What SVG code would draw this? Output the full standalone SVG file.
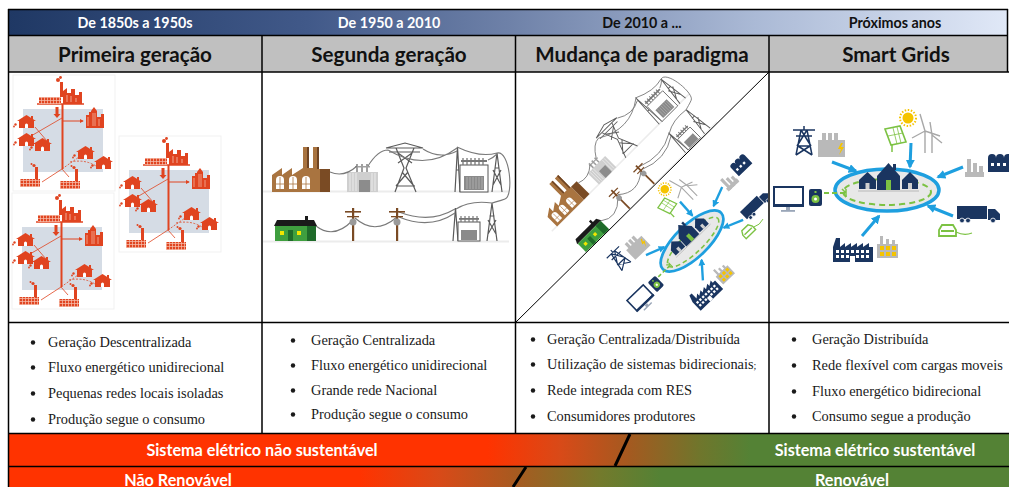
<svg xmlns="http://www.w3.org/2000/svg" width="1009" height="487" viewBox="0 0 1009 487">
<style>
.h1{font-family:Lato,"Liberation Sans",sans-serif;font-weight:700;font-size:14.3px;text-anchor:middle}
.h2{font-family:Lato,"Liberation Sans",sans-serif;font-weight:700;font-size:20.6px;text-anchor:middle;fill:#111}
.bl{font-family:"Liberation Serif",serif;font-size:14.4px;fill:#1a1a1a}
.bd{font-family:Lato,"Liberation Sans",sans-serif;font-weight:700;font-size:16.2px;text-anchor:middle;fill:#fff}
.ln{stroke:#000;stroke-width:1.5;fill:none}
.w{stroke:#7a7a7a;stroke-width:1.1;fill:none}
.tw{stroke:#5a5a5a;stroke-width:1.2;fill:none}
.rd{fill:#e04420}
.rl{stroke:#e04420;fill:none}
.nv{fill:#1a3560}
.ar{stroke:#1e9fdf;stroke-width:3;fill:none;marker-end:url(#ah)}
</style>
<defs>
<linearGradient id="hg" gradientUnits="userSpaceOnUse" x1="8" y1="0" x2="1007" y2="0">
<stop offset="0" stop-color="#1f3864"/><stop offset="0.3" stop-color="#415989"/><stop offset="0.5" stop-color="#6e81a8"/><stop offset="0.75" stop-color="#abbad6"/><stop offset="1" stop-color="#e0e8f7"/>
</linearGradient>
<linearGradient id="b1" gradientUnits="userSpaceOnUse" x1="8" y1="0" x2="1007" y2="0">
<stop offset="0.48" stop-color="#ff3300"/><stop offset="0.553" stop-color="#d84a18"/><stop offset="0.623" stop-color="#a35a20"/><stop offset="0.693" stop-color="#6f762c"/><stop offset="0.743" stop-color="#548235"/><stop offset="1" stop-color="#548235"/>
</linearGradient>
<linearGradient id="b2" gradientUnits="userSpaceOnUse" x1="8" y1="0" x2="1007" y2="0">
<stop offset="0.352" stop-color="#ff3300"/><stop offset="0.432" stop-color="#d84a18"/><stop offset="0.507" stop-color="#a85a20"/><stop offset="0.593" stop-color="#737a2c"/><stop offset="0.653" stop-color="#548235"/><stop offset="1" stop-color="#548235"/>
</linearGradient>
<pattern id="grid" width="3" height="3" patternUnits="userSpaceOnUse"><rect width="3" height="3" fill="#e04420"/><path d="M0,0.5H3M0.5,0V3" stroke="#f6c2b0" stroke-width="0.7"/></pattern>
<marker id="ah" viewBox="0 0 10 10" refX="8" refY="5" markerWidth="3" markerHeight="3" orient="auto"><path d="M0,0 L10,5 L0,10 Z" fill="#1e9fdf"/></marker>
<marker id="rh" viewBox="0 0 10 10" refX="8" refY="5" markerWidth="4" markerHeight="4" orient="auto"><path d="M0,0 L10,5 L0,10 Z" fill="#e04420"/></marker>
<clipPath id="cUp"><polygon points="516,73 768,73 516,321"/></clipPath>
<clipPath id="cDn"><polygon points="768,73 768,321 516,321"/></clipPath>
<clipPath id="c4"><rect x="770" y="73" width="239" height="249"/></clipPath>

<!-- small red house -->
<g id="hs">
<path class="rd" d="M0,6 L9.5,0 L19,6 H17 V13 H2 V6 Z"/>
<rect class="rd" x="14" y="1" width="2" height="3"/>
<path d="M8,13 V10 A1.5,1.5 0 0 1 11,10 V13 Z" fill="#fff"/>
<circle class="rd" cx="-1.5" cy="9.5" r="1.2"/><circle class="rd" cx="-3" cy="11.5" r="0.9"/>
</g>
<!-- small red factory -->
<g id="sf">
<rect x="0" y="14" width="20" height="8" fill="url(#grid)"/>
<rect class="rd" x="15" y="2" width="3" height="12"/>
<circle class="rd" cx="14" cy="0.5" r="1.6"/><circle class="rd" cx="11.5" cy="-1" r="1"/>
</g>
<!-- isolated local network -->
<g id="cl">
<rect x="-10" y="-34" width="102" height="116" fill="#fff" stroke="#f1f1f1"/>
<rect width="80" height="63" fill="#d5dce5"/>
<path class="rl" stroke-width="1.5" d="M14,-5 H61"/>
<rect x="16" y="-12" width="22" height="7" fill="url(#grid)"/>
<rect class="rd" x="37" y="-27" width="3" height="15"/>
<circle class="rd" cx="35" cy="-29" r="2"/><circle class="rd" cx="37.5" cy="-31.5" r="1.4"/>
<path class="rd" d="M40,-5 V-18 L44,-21 V-16 H48 V-20 H52 V-14 H56 V-17 H59 V-5 Z"/>
<path d="M44,-14 V-7 M48,-13 V-7 M53,-11 V-7" stroke="#f6c2b0" stroke-width="0.8"/>
<path class="rl" stroke-width="2" d="M39.5,-5 V60"/>
<path class="rd" d="M32.5,-2 H35.5 V5 H37.5 L34,9 L30.5,5 H32.5 Z"/>
<path class="rd" d="M63,19 V6 H66 V3 H68 V19 Z M68,19 V2 L71,-2 L74,2 V19 Z M74,19 V8 H78 V5 H81 V19 Z"/>
<path d="M70,4 V17 M72,4 V17 M76,10 V17 M65,8 V17" stroke="#f6c2b0" stroke-width="0.7"/>
<path class="rl" stroke-width="1" d="M40,12 H60" marker-end="url(#rh)"/>
<path class="rl" stroke-width="0.8" d="M39,9 L8,27 M12,18 L24,32 M4,30 L14,36"/>
<use href="#hs" x="-6" y="6"/><use href="#hs" x="-6" y="24"/><use href="#hs" x="10" y="29"/>
<path class="rl" stroke-width="0.8" d="M39,60 L19,73 M39,60 L46,68"/>
<path class="rl" stroke-width="0.8" stroke-dasharray="2 1.5" d="M39,60 L56,48 M47,53 Q62,50 73,57"/>
<use href="#hs" x="53" y="37"/><use href="#hs" x="71" y="47"/>
<use href="#sf" x="-3" y="56"/><use href="#sf" x="37" y="58"/>
</g>

<!-- centralized grid -->
<g id="cg">
<rect x="263" y="190.5" width="246" height="2" fill="#ececec"/>
<rect x="263" y="240.5" width="246" height="2" fill="#ececec"/>
<path d="M272,192 V175 L282,168 V175 L292,168 V175 L303,168 V147 H309 V168 H313 V147 H319 V169 H320 V192 Z" fill="#a97440"/>
<rect x="307" y="147" width="2" height="21" fill="#6e4322"/><rect x="317" y="147" width="2" height="22" fill="#6e4322"/>
<rect x="320" y="169" width="10" height="23" fill="#7a4b24"/>
<g fill="#fff"><path d="M276,189 V180 A4,4 0 0 1 284,180 V189 Z"/><path d="M289,189 V180 A4,4 0 0 1 297,180 V189 Z"/><path d="M302,189 V180 A4,4 0 0 1 310,180 V189 Z"/></g>
<path d="M280,177 V189 M293,177 V189 M306,177 V189 M276,184 H284 M289,184 H297 M302,184 H310" stroke="#a97440" stroke-width="0.8"/>
<rect x="347" y="172" width="31" height="20" fill="#cfcfcf"/>
<path d="M350,173 V191 M353,173 V191 M356,173 V191 M372,173 V191 M375,173 V191" stroke="#ececec" stroke-width="1"/>
<rect x="359" y="180" width="11" height="12" fill="#8c8c8c"/>
<rect x="355" y="166" width="15" height="1.5" fill="#a0a0a0"/>
<path d="M357,164 V172 M362,164 V172 M367,164 V172" stroke="#a0a0a0" stroke-width="2"/>
<path class="tw" d="M386,148 H423 M389,152 H420 M386,148 L405,143 L423,148 M396,148 L404,168 L395,192 M414,148 L406,168 L416,192 M398,153 L412,163 M412,153 L398,163 M402,172 L414,186 M408,172 L396,186 M396,186 H415"/>
<path class="tw" d="M455,192 L457.5,147 L460,192 M456,170 H459"/>
<rect x="460" y="165" width="28" height="27" fill="#fff" stroke="#555" stroke-width="1"/>
<rect x="461" y="160" width="26" height="2" fill="#777"/>
<path d="M463,158 V165 M467,158 V165 M471,158 V165 M475,158 V165 M479,158 V165 M483,158 V165" stroke="#777" stroke-width="1.3"/>
<rect x="464" y="176" width="20" height="14" fill="#8a8a8a"/>
<path d="M467,177 V189 M470,177 V189 M473,177 V189 M476,177 V189 M479,177 V189 M482,177 V189" stroke="#b5b5b5" stroke-width="0.8"/>
<path class="tw" d="M492,192 L497,153 L502,192 M493,185 L501,170 M501,185 L493,170 M494.5,168 H499.5"/>
<path class="tw" d="M453,241 L455.5,208 L458,241"/>
<rect x="458" y="222" width="22" height="19" fill="#fff" stroke="#555" stroke-width="1"/>
<rect x="459" y="218" width="20" height="1.8" fill="#777"/>
<path d="M461,216 V222 M465,216 V222 M469,216 V222 M473,216 V222 M477,216 V222" stroke="#777" stroke-width="1.2"/>
<rect x="461" y="230" width="16" height="10" fill="#8a8a8a"/>
<path class="tw" d="M487,241 L492,203 L497,241 M488,234 L496,220 M496,234 L488,220 M489.5,216 H494.5"/>
<path class="w" d="M330,172 Q344,178 357,166 M368,166 Q378,150 388,150 M388,150 Q425,172 457,148 M423,149 Q440,160 457,151 M457,147 Q480,158 497,153 M488,160 Q493,158 497,154 M497,153 C510,150 514,196 505,199 C500,201 495,202 492,203 M492,203 Q470,200 456,209 M455,209 Q430,224 399,212 M455,213 Q430,230 399,217 M397,217 Q375,236 355,218 M353,220 Q334,240 316,226"/>
<g fill="#7a4a24"><rect x="352" y="208" width="2.2" height="33"/><rect x="345" y="211" width="16" height="1.6"/><rect x="347" y="216" width="12" height="1.3"/><rect x="396" y="208" width="2.2" height="33"/><rect x="389" y="211" width="16" height="1.6"/><rect x="391" y="216" width="12" height="1.3"/></g>
<circle cx="353" cy="222" r="3.5" fill="#9a9a9a"/><circle cx="397" cy="222" r="3.5" fill="#9a9a9a"/>
<path d="M274,226 L277,220 H314 L317,226 Z" fill="#1a1a1a"/><rect x="305" y="216" width="3" height="5" fill="#1a1a1a"/>
<rect x="275" y="226" width="41" height="15" fill="#3f9f3f"/><rect x="307" y="226" width="9" height="15" fill="#1f6b2a"/>
<rect x="280" y="231" width="4" height="4" fill="#f2e600"/><rect x="297" y="231" width="4" height="4" fill="#f2e600"/>
<rect x="288" y="230" width="5" height="11" fill="#1f6b2a"/>
</g>

<!-- smart grid -->
<g id="sg">
<ellipse cx="887" cy="190" rx="52" ry="21" fill="#e8e8e8" stroke="#1e9fdf" stroke-width="3.5"/>
<ellipse cx="887" cy="192" rx="44" ry="13" fill="none" stroke="#7cc243" stroke-width="2" stroke-dasharray="6 4"/>
<path class="nv" d="M877,176 L888.5,163 L900,176 V190 H877 Z"/><rect class="nv" x="893" y="164" width="3" height="6"/>
<rect x="886" y="180" width="5" height="10" fill="#7cc243"/>
<path class="nv" d="M859,180 L867.5,172 L876,180 V189 H859 Z"/><rect x="865.5" y="183" width="4" height="6" fill="#d0d0d0"/>
<path class="nv" d="M902,180 L910,172 L918,180 V189 H902 Z"/><rect x="908" y="183" width="4" height="6" fill="#d0d0d0"/>
<path d="M858,191 H919" stroke="#b8b8b8" stroke-width="1"/>
<path class="ar" d="M832,162 L856,171"/>
<path class="ar" d="M911,143 L910,167"/>
<path class="ar" d="M963,167 L938,177"/>
<path class="ar" d="M953,216 L928,206"/>
<path class="ar" d="M862,236 L879,216"/>
<path d="M793,130 H815 M796,136 H812 M801,130 L796,155 M807,130 L812,155 M801,130 L811,146 M807,130 L797,146 M798,146 H810 M798,146 L812,155 M810,146 L796,155 M804,126 V130" stroke="#1a3560" stroke-width="1.5" fill="none"/>
<rect x="818" y="140" width="27" height="17" fill="#b9b9b9"/>
<rect x="822" y="133" width="4" height="8" fill="#b9b9b9"/><rect x="828" y="133" width="4" height="8" fill="#b9b9b9"/><rect x="834" y="133" width="4" height="8" fill="#b9b9b9"/>
<path d="M841,143 L838,149 H841 L839,155 L844,147 H841 L843,143 Z" fill="#f5c400"/>
<path d="M885,129 L900,126 L906,142 L891,145 Z" fill="#fff" stroke="#7cc243" stroke-width="1.6"/>
<path d="M888,136 L903,133 M893,128 L897,144 M897,127 L901,143" stroke="#7cc243" stroke-width="0.8"/>
<path d="M892,145 V152" stroke="#7cc243" stroke-width="1.5"/>
<circle cx="908" cy="118" r="5.5" fill="#f5c400"/>
<circle cx="908" cy="118" r="8" fill="none" stroke="#f5c400" stroke-width="2" stroke-dasharray="1.5 1.6"/>
<path d="M925,131 V153 M925,131 L920,114 M925,131 L940,136 M925,131 L912,138 M932,135 V153 M932,135 L930,122 M932,135 L942,143" stroke="#a8a8a8" stroke-width="1.4" fill="none"/>
<rect x="967" y="159" width="4" height="18" fill="#b9b9b9"/><rect x="973" y="163" width="4" height="14" fill="#b9b9b9"/><rect x="979" y="166" width="4" height="11" fill="#b9b9b9"/><rect x="965" y="172" width="19" height="5" fill="#b9b9b9"/>
<path class="nv" d="M988,172 V158 A4,4 0 0 1 996,158 A4,4 0 0 1 1004,158 A4,4 0 0 1 1012,158 V172 Z"/>
<rect x="991" y="163" width="3" height="3" fill="#fff"/><rect x="997" y="163" width="3" height="3" fill="#fff"/><rect x="1003" y="163" width="3" height="3" fill="#fff"/>
<rect class="nv" x="957" y="206" width="30" height="13"/>
<path class="nv" d="M988,209 H995 L1000,214 V220 H988 Z"/>
<g fill="#1a3560" stroke="#fff" stroke-width="0.8"><circle cx="962" cy="220.5" r="2.4"/><circle cx="968" cy="220.5" r="2.4"/><circle cx="993" cy="220.5" r="2.4"/></g>
<path d="M939,236 V230 L942,225 H953 L956,230 V236 Z M941,231 H954" fill="#fff" stroke="#7cc243" stroke-width="1.8"/>
<path d="M956,232 Q964,236 972,233" stroke="#7cc243" stroke-width="1.2" fill="none"/>
<rect x="774" y="187" width="29" height="18" fill="#fff" stroke="#1a3560" stroke-width="2"/>
<rect class="nv" x="773" y="204" width="31" height="3"/>
<rect x="786" y="207" width="4" height="4" fill="#9aa6b8"/><rect x="781" y="210" width="14" height="1.8" fill="#9aa6b8"/>
<rect class="nv" x="809" y="189" width="13" height="17" rx="2"/>
<circle cx="815.5" cy="199" r="4" fill="#7cc243"/><circle cx="815.5" cy="199" r="1.5" fill="#fff"/><rect x="814.5" y="191" width="2" height="2" fill="#7cc243"/>
<path d="M824,193 H846" stroke="#7cc243" stroke-width="2" stroke-dasharray="5 3"/>
<path d="M846,189 V197 M846,193 L842,189" stroke="#7cc243" stroke-width="1.5" fill="none"/>
<path class="nv" d="M833,262 V247 L836,238 H840 V247 L845,243 V247 L851,243 V247 L857,243 V247 L863,243 V247 L869,243 V247 H873 V262 Z"/>
<g fill="#fff"><rect x="836" y="250" width="3" height="3"/><rect x="841" y="250" width="3" height="3"/><rect x="846" y="250" width="3" height="3"/><rect x="851" y="250" width="3" height="3"/><rect x="856" y="250" width="3" height="3"/><rect x="861" y="250" width="3" height="3"/><rect x="866" y="250" width="3" height="3"/><rect x="836" y="255" width="3" height="3"/><rect x="841" y="255" width="3" height="3"/><rect x="846" y="255" width="3" height="3"/><rect x="856" y="255" width="3" height="3"/><rect x="861" y="255" width="3" height="3"/><rect x="866" y="255" width="3" height="3"/><rect x="850" y="256" width="5" height="6"/></g>
<path d="M877,258 V244 H880 V236 H883 V244 H886 V239 H889 V244 H892 V240 H895 V244 H898 V258 Z" fill="#b9b9b9"/>
<g fill="#f5c400"><rect x="880" y="246" width="4" height="4"/><rect x="886" y="246" width="4" height="4"/><rect x="892" y="246" width="4" height="4"/><rect x="880" y="252" width="4" height="4"/><rect x="886" y="252" width="4" height="4"/><rect x="892" y="252" width="4" height="4"/></g>
</g>
</defs>

<!-- header bands -->
<rect x="8" y="9" width="1000" height="26" fill="url(#hg)"/>
<rect x="8" y="35" width="1000" height="37" fill="#c0c0c0"/>
<rect x="8" y="72" width="1001" height="361" fill="#fff"/>

<g id="col1-art">
<use href="#cl" transform="translate(23,109)"/>
<use href="#cl" transform="translate(129,170)"/>
<use href="#cl" transform="translate(22,227)"/>
</g>
<g id="col2-art"><use href="#cg"/></g>
<g id="col3-art">
<g clip-path="url(#cUp)"><use href="#cg" transform="translate(561,198) scale(0.79) rotate(-45) translate(-301,-170)"/></g>
<g clip-path="url(#cDn)"><use href="#sg" transform="translate(692,241) scale(0.78) rotate(-44) translate(-887,-190)"/></g>
<path d="M515.5,322.5 L769,72" stroke="#000" stroke-width="1"/>
</g>
<g id="col4-art" clip-path="url(#c4)"><use href="#sg"/></g>

<!-- bottom bands -->
<rect x="8" y="433" width="1001" height="33" fill="url(#b1)"/>
<rect x="8" y="466" width="1001" height="21" fill="url(#b2)"/>
<path d="M630,434 L615,466 M526,467 L513,487" stroke="#000" stroke-width="3"/>

<!-- grid lines -->
<g id="table-lines">
<path class="ln" d="M8,9.5 H1008 M8,35.5 H1008 M8,72 H1009 M8,322.5 H1009 M8,433.5 H1009 M8,466.5 H1009 M8.5,9 V487 M1007.5,9 V72"/>
<path class="ln" d="M262,35 V433 M515.5,35 V433 M769,35 V433"/>
</g>

<g id="headers">
<text class="h1" x="135" y="27.5" fill="#fff">De 1850s a 1950s</text>
<text class="h1" x="389" y="27.5" fill="#fff">De 1950 a 2010</text>
<text class="h1" x="642" y="27.5" fill="#111">De 2010 a ...</text>
<text class="h1" x="895" y="27.5" fill="#111">Próximos anos</text>
<text class="h2" x="135" y="61.5">Primeira geração</text>
<text class="h2" x="389" y="61.5">Segunda geração</text>
<text class="h2" x="642" y="61.5">Mudança de paradigma</text>
<text class="h2" x="896" y="61.5">Smart Grids</text>
</g>

<g id="bullets" fill="#1a1a1a">
<circle cx="33" cy="342.5" r="2.2"/><circle cx="33" cy="367.5" r="2.2"/><circle cx="33" cy="393.5" r="2.2"/><circle cx="33" cy="419.5" r="2.2"/>
<text class="bl" x="48" y="347">Geração Descentralizada</text>
<text class="bl" x="48" y="372">Fluxo energético unidirecional</text>
<text class="bl" x="48" y="398">Pequenas redes locais isoladas</text>
<text class="bl" x="48" y="424">Produção segue o consumo</text>
<circle cx="293" cy="340.5" r="2.2"/><circle cx="293" cy="365.5" r="2.2"/><circle cx="293" cy="390.5" r="2.2"/><circle cx="293" cy="414.5" r="2.2"/>
<text class="bl" x="311" y="345">Geração Centralizada</text>
<text class="bl" x="311" y="370">Fluxo energético unidirecional</text>
<text class="bl" x="311" y="395">Grande rede Nacional</text>
<text class="bl" x="311" y="419">Produção segue o consumo</text>
<circle cx="533" cy="339.5" r="2.2"/><circle cx="533" cy="364.5" r="2.2"/><circle cx="533" cy="390.5" r="2.2"/><circle cx="533" cy="416.5" r="2.2"/>
<text class="bl" x="547" y="344">Geração Centralizada/Distribuída</text>
<text class="bl" x="547" y="369">Utilização de sistemas bidirecionais<tspan font-size="10">;</tspan></text>
<text class="bl" x="547" y="395">Rede integrada com RES</text>
<text class="bl" x="547" y="421">Consumidores produtores</text>
<circle cx="794" cy="339.5" r="2.2"/><circle cx="794" cy="365.5" r="2.2"/><circle cx="794" cy="391.5" r="2.2"/><circle cx="794" cy="416.5" r="2.2"/>
<text class="bl" x="812" y="344">Geração Distribuída</text>
<text class="bl" x="812" y="370">Rede flexível com cargas moveis</text>
<text class="bl" x="812" y="396">Fluxo energético bidirecional</text>
<text class="bl" x="812" y="421">Consumo segue a produção</text>
</g>

<g id="band-labels">
<text class="bd" x="262" y="455.5">Sistema elétrico não sustentável</text>
<text class="bd" x="875" y="455.5">Sistema elétrico sustentável</text>
<text class="bd" x="178" y="486">Não Renovável</text>
<text class="bd" x="852" y="486">Renovável</text>
</g>
</svg>
